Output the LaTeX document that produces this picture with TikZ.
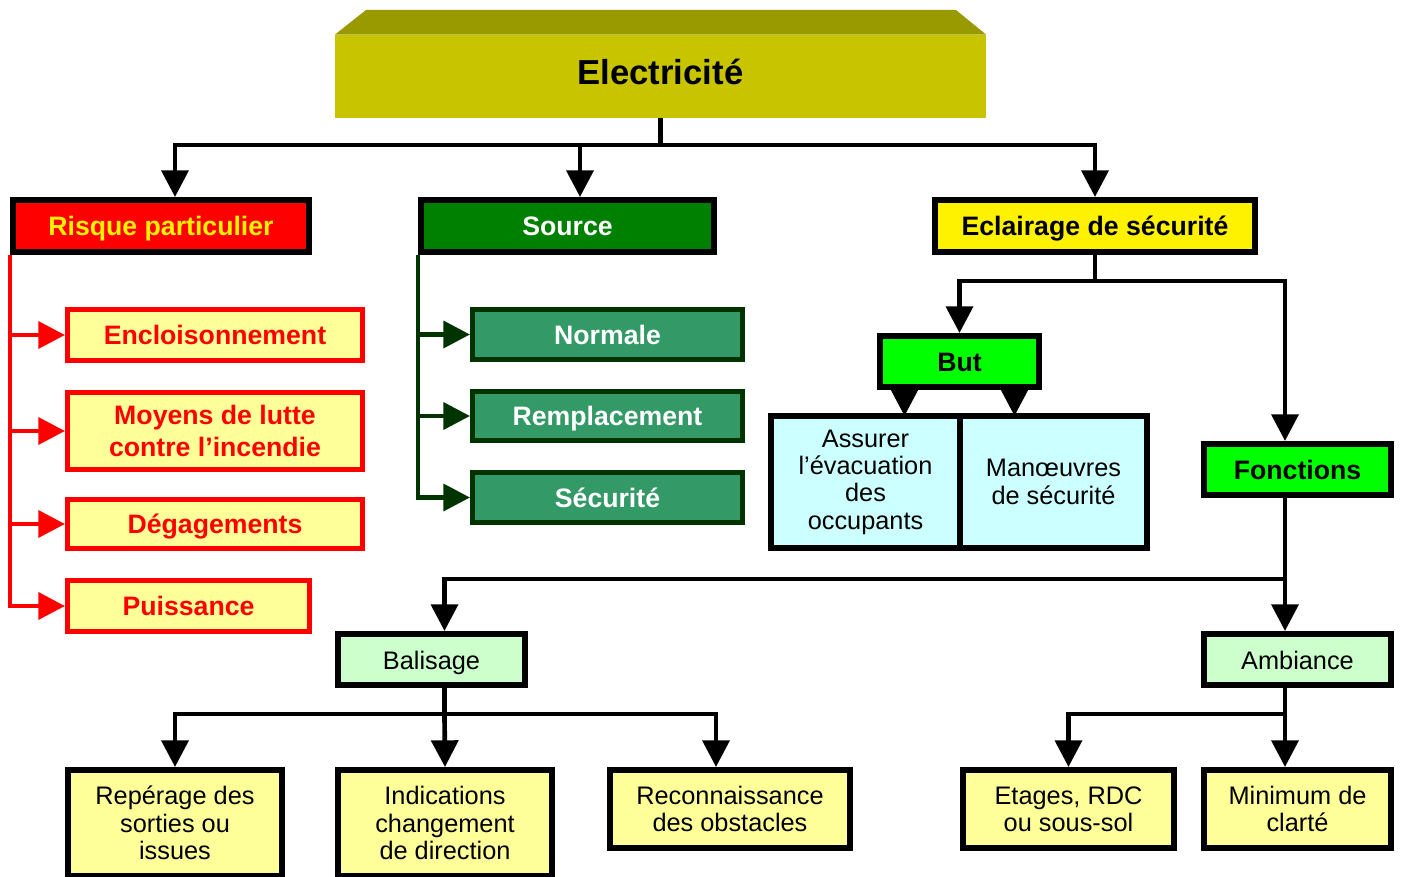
\documentclass[tikz,border=0pt]{standalone}
\usepackage{fontspec}
\setmainfont{Liberation Sans}
\usetikzlibrary{arrows.meta}
\definecolor{titlefront}{RGB}{200,196,0}
\definecolor{titletop}{RGB}{153,153,0}
\definecolor{lightyel}{RGB}{255,255,153}
\definecolor{srcgreen}{RGB}{0,128,0}
\definecolor{seagrn}{RGB}{51,153,102}
\definecolor{darkgrn}{RGB}{0,51,0}
\definecolor{lime}{RGB}{0,255,0}
\definecolor{palecyan}{RGB}{204,255,255}
\definecolor{mint}{RGB}{204,255,204}
\begin{document}
\begin{tikzpicture}[x=0.75pt,y=-0.75pt,line join=miter,
	wh/.style 2 args={minimum width=#1*0.75pt,minimum height=#2*0.75pt},
	one/.style={text height=18.3pt,text depth=4pt},
	multi/.style={align=center},
	box/.style={draw=black,line width=4.5pt,inner sep=0pt,font=\fontsize{20}{24}\selectfont\bfseries},
	redbox/.style={box,draw=red,line width=3.75pt,fill=lightyel,text=red},
	grnbox/.style={box,one,draw=darkgrn,line width=3.75pt,fill=seagrn,text=white},
	thinbox/.style={box,font=\fontsize{19}{20.5}\selectfont},
	tip/.style={-{Triangle[width=20pt,length=20pt]}},
	line/.style={line width=3.5pt},
	arr/.style={line,tip},
	redarr/.style={arr,draw=red},
	grnarr/.style={arr,draw=darkgrn}]
	\useasboundingbox (0,0) rectangle (1403,877);
	\node[fill=titlefront,inner sep=0pt,text height=15.8pt,text depth=4pt,wh={651}{83},font=\fontsize{26}{30}\selectfont\bfseries] (title) at (660.5,76.5) {Electricité};
	\fill[titletop] (title.north west) -- (366,10) -- (956,10) -- (title.north east) -- cycle;
	\node[box,one,fill=red,text=yellow,wh={296}{52}] (risk) at (161,226) {Risque particulier};
	\node[box,one,fill=srcgreen,text=white,wh={293}{52}] (src) at (567.5,226) {Source};
	\node[box,one,fill=yellow,wh={320}{52}] (ecl) at (1095,226) {Eclairage de sécurité};
	\node[redbox,one,wh={295}{51}] (enc) at (215,335) {Encloisonnement};
	\node[redbox,multi,wh={295}{77}] (moy) at (215,431) {Moyens de lutte\\contre l’incendie};
	\node[redbox,one,wh={295}{49}] (deg) at (215,524) {Dégagements};
	\node[redbox,one,wh={242}{51}] (pui) at (188.5,606) {Puissance};
	\node[grnbox,wh={270}{50}] (nor) at (607.5,334.5) {Normale};
	\node[grnbox,wh={270}{49}] (rem) at (607.5,416) {Remplacement};
	\node[grnbox,wh={270}{50}] (sec) at (607.5,497.5) {Sécurité};
	\node[box,one,fill=lime,wh={159}{51}] (but) at (959.5,361.5) {But};
	\node[thinbox,multi,fill=palecyan,wh={189}{132}] (ass) at (865.5,482) {Assurer\\l’évacuation\\des\\occupants};
	\node[thinbox,multi,fill=palecyan,wh={187}{132}] (man) at (1053.5,482) {Manœuvres\\de sécurité};
	\node[box,one,fill=lime,wh={187}{51}] (fon) at (1297.5,469.5) {Fonctions};
	\node[thinbox,one,fill=mint,wh={187}{51}] (bal) at (431.5,659.5) {Balisage};
	\node[thinbox,one,fill=mint,wh={187}{51}] (amb) at (1297.5,659.5) {Ambiance};
	\node[thinbox,multi,fill=lightyel,wh={214}{106}] (rep) at (175,823) {Repérage des\\sorties ou\\issues};
	\node[thinbox,multi,fill=lightyel,wh={214}{106}] (ind) at (445,823) {Indications\\changement\\de direction};
	\node[thinbox,multi,fill=lightyel,wh={240}{78}] (rec) at (730,809) {Reconnaissance\\des obstacles};
	\node[thinbox,multi,fill=lightyel,wh={211}{78}] (eta) at (1068.5,809) {Etages, RDC\\ou sous-sol};
	\node[thinbox,multi,fill=lightyel,wh={187}{78}] (min) at (1297.5,809) {Minimum de\\clarté};
	\draw[line] (title.south) -- (title.south |- 0,145) coordinate (t1);
	\draw[arr] (t1) -| ([xshift=14*0.75pt]risk.north);
	\draw[arr] (t1) -| ([xshift=12.5*0.75pt]src.north);
	\draw[arr] (t1) -| (ecl.north);
	\foreach \n in {enc,moy,deg,pui}\draw[redarr] (risk.south west) |- (\n.west);
	\foreach \n in {nor,rem,sec}\draw[grnarr] (src.south west) |- (\n.west);
	\draw[line] (ecl.south) -- ++(0,26) coordinate (e1);
	\draw[arr] (e1) -| (but.north);
	\draw[arr] (e1) -| ([xshift=-12.5*0.75pt]fon.north);
	\draw[arr] ([xshift=-55*0.75pt]but.south) -- ++(0,26);
	\draw[arr] ([xshift=55*0.75pt]but.south) -- ++(0,26);
	\draw[line] ([xshift=-12.5*0.75pt]fon.south) -- ++(0,81) coordinate (f1);
	\draw[arr] (f1) -| ([xshift=13*0.75pt]bal.north);
	\draw[arr] (f1) -- ([xshift=-12.5*0.75pt]amb.north);
	\draw[line] ([xshift=13*0.75pt]bal.south) -- ++(0,26) coordinate (b1);
	\draw[arr] (b1) -| (rep.north);
	\draw[arr] (b1) -- (ind.north);
	\draw[arr] (b1) -| ([xshift=-14*0.75pt]rec.north);
	\draw[line] ([xshift=-12.5*0.75pt]amb.south) -- ++(0,26) coordinate (a1);
	\draw[arr] (a1) -| (eta.north);
	\draw[arr] (a1) -- ([xshift=-12.5*0.75pt]min.north);
\end{tikzpicture}
\end{document}
